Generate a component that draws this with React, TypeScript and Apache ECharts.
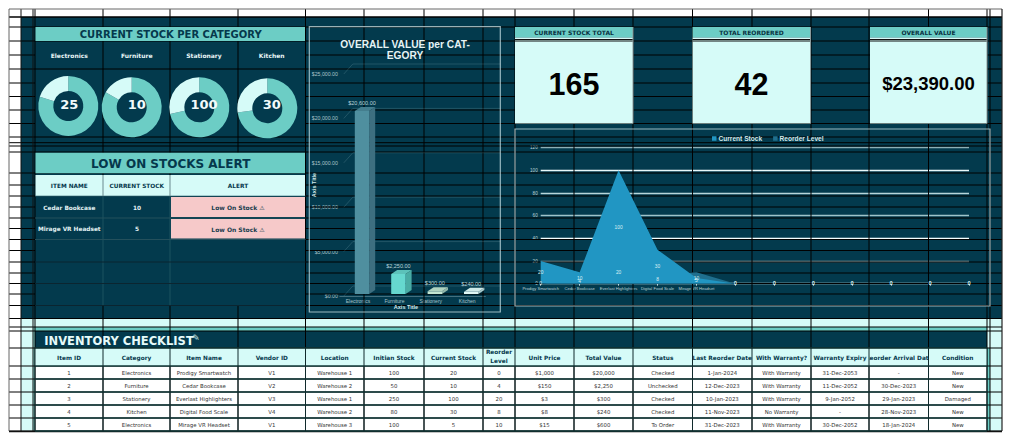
import React, { useEffect, useRef } from "react";
import * as echarts from "echarts";

// ---------- data ----------
const donutCategories = ["Electronics", "Furniture", "Stationary", "Kitchen"];
const donutCurrent = [25, 10, 100, 30];
const donutInitial = [100, 50, 250, 80];

const kpiTitles = ["CURRENT STOCK TOTAL", "TOTAL REORDERED", "OVERALL VALUE"];
const kpiValues = ["165", "42", "$23,390.00"];

const alertHeaders = ["ITEM NAME", "CURRENT STOCK", "ALERT"];
const alertItems = ["Cedar Bookcase", "Mirage VR Headset"];
const alertStocks = ["10", "5"];
const alertText = "Low On Stock \u26A0";

const valueCategories = ["Electronics", "Furniture", "Stationery", "Kitchen"];
const overallValues = [20600, 2250, 300, 240];
const valueTicks = [0, 5000, 10000, 15000, 20000, 25000];

const areaCategories = ["Prodigy Smartwatch", "Cedar Bookcase", "Everlast Highlighters", "Digital Food Scale", "Mirage VR Headset", "", "", "", "", "", "", ""];
const currentStock = [20, 10, 100, 30, 5, 0, 0, 0, 0, 0, 0, 0];
const reorderLevel = [0, 4, 20, 8, 10, 0, 0, 0, 0, 0, 0, 0];

const tableHeaders = ["Item ID", "Category", "Item Name", "Vendor ID", "Location", "Initian Stock", "Current Stock", "Reorder\nLevel", "Unit Price", "Total Value", "Status", "Last Reorder Date", "With Warranty?", "Warranty Expiry", "Reorder Arrival Date", "Condition"];
const tableRows = [
  ["1", "Electronics", "Prodigy Smartwatch", "V1", "Warehouse 1", "100", "20", "0", "$1,000", "$20,000", "Checked", "1-Jan-2024", "With Warranty", "31-Dec-2053", "-", "New"],
  ["2", "Furniture", "Cedar Bookcase", "V2", "Warehouse 2", "50", "10", "4", "$150", "$2,250", "Unchecked", "12-Dec-2023", "With Warranty", "11-Dec-2052", "30-Dec-2023", "New"],
  ["3", "Stationery", "Everlast Highlighters", "V3", "Warehouse 1", "250", "100", "20", "$3", "$300", "Checked", "10-Jan-2023", "With Warranty", "9-Jan-2052", "29-Jan-2023", "Damaged"],
  ["4", "Kitchen", "Digital Food Scale", "V4", "Warehouse 2", "80", "30", "8", "$8", "$240", "Checked", "11-Nov-2023", "No Warranty", "-", "28-Nov-2023", "New"],
  ["5", "Electronics", "Mirage VR Headset", "V1", "Warehouse 3", "100", "5", "10", "$15", "$600", "To Order", "31-Dec-2023", "With Warranty", "30-Dec-2052", "18-Jan-2024", "New"],
];

// ---------- layout & palette ----------
const DARK = "#033a4d";
const LIGHT = "#d6fbf8";
const TEAL = "#6ccdc5";
const PINK = "#f6c9c9";
const NAVY = "#05384c";
const DEJA = "'DejaVu Sans'";
const LIB = "'Liberation Sans'";

const cols = [35, 103, 170, 238, 305.5, 364, 424, 483, 515, 574, 633, 692.5, 752, 811, 869, 928.5, 987];
const allRows = [17, 27, 41, 55, 69, 83, 96.5, 110, 123.5, 137, 142.7, 146, 152, 173, 185, 196, 207, 218, 228.5, 239.5, 250.5, 262, 273, 283.5, 294, 305.5, 318.5, 327, 331];
const leftPanelRows = [17, 27, 41, 69, 137, 142.7, 146, 152, 173, 318.5, 327, 331];
const tableLines = [348, 366, 379, 392, 405, 418, 431];
const donutCenters = [[68.3, 106], [131.7, 107.3], [199.3, 107.3], [267.3, 108.3]];
const donutLabelX = [69.3, 136.7, 204, 271.7];
const kpiBoxes = [[515, 633], [692.5, 810.5], [870, 987]];
const barFronts = ["#4f8f9f", "#66d8cf", "#c4e6d2", "#e0f7f5"];
const barSides = ["#3d6f80", "#49aca4", "#8fb5a8", "#a9c9cb"];
const barTops = ["#447e8e", "#5cc2ba", "#b0d3c0", "#cfe9e8"];

function App() {
  const ref = useRef<HTMLDivElement>(null);
  useEffect(() => {
    document.body.style.margin = "0";
    const chart = echarts.init(ref.current!, undefined, { renderer: "svg" });
    const g: any[] = [];
    const rect = (x1: number, y1: number, x2: number, y2: number, fill: string, z = 1, extra: any = {}) =>
      g.push({ type: "rect", silent: true, z, shape: { x: x1, y: y1, width: x2 - x1, height: y2 - y1 }, style: { fill, ...extra } });
    const line = (x1: number, y1: number, x2: number, y2: number, stroke = "#000", lineWidth = 1, z = 1.5) =>
      g.push({ type: "line", silent: true, z, shape: { x1, y1, x2, y2 }, style: { stroke, lineWidth } });
    const text = (t: string, x: number, y: number, font: string, fill: string, z = 6, rotation = 0, extra: any = {}) =>
      g.push({ type: "text", silent: true, z, x, y, rotation, style: { text: t, font, fill, textAlign: "center", textVerticalAlign: "middle", verticalAlign: "middle", align: "center", ...extra } });

    // sheet backgrounds
    rect(21, 17, 1002, 318.5, DARK, 0);
    rect(21, 318.5, 1002, 327, LIGHT, 0);
    rect(21, 327, 1002, 431, LIGHT, 0);
    rect(35, 327, 987, 331, TEAL, 0.1);
    rect(33, 327, 35, 431, "#8fdcd4", 0.1);
    rect(987, 348, 990, 431, TEAL, 0.1);
    rect(35, 331, 987, 348, DARK, 0.1);
    rect(35, 348, 987, 431, "#ffffff", 0.1);

    // sheet lines
    for (const y of allRows) {
      line(9, y, 35, y, "#000", y === 17 ? 1.5 : 1);
      line(305.5, y, 1002, y, "#000", y === 17 ? 1.5 : 1);
    }
    for (const y of leftPanelRows) line(35, y, 305.5, y, "#000", y === 17 ? 1.5 : 1);
    for (const y of tableLines) line(9, y, 1002, y, "#000", 1);
    for (const x of [21, 33]) line(x, 9, x, 431, "#111", 1);
    for (const x of cols) {
      if (x === 238) {
        line(x, 9, x, 173);
        line(x, 305.5, x, 431);
      } else if (x === 103 || x === 170) {
        line(x, 9, x, 196);
        line(x, 196, x, 305.5, "#1d5361");
        line(x, 305.5, x, 431);
      } else line(x, 9, x, 431);
    }
    line(990, 9, 990, 431);
    line(9, 9, 1002, 9, "#666", 1);
    line(9, 9, 9, 431, "#666", 1);
    line(1002, 9, 1002, 431, "#222", 1.2);
    line(9, 431.5, 1002, 431.5, "#111", 1.5);

    // left panel: stock per category
    rect(35.5, 27, 305, 41, TEAL, 2);
    text("CURRENT STOCK PER CATEGORY", 170.7, 34.5, `bold 10px ${DEJA}`, NAVY);
    donutCategories.forEach((c, i) => {
      text(c, donutLabelX[i], 55.7, `bold 6px ${DEJA}`, "#e8f6f7");
      text(String(donutCurrent[i]), donutLabelX[i], 104, `bold 13px ${DEJA}`, "#f2fbfb");
    });

    // low on stock panel
    rect(35.5, 152.7, 305, 173.3, TEAL, 2);
    text("LOW ON STOCKS ALERT", 170.7, 164, `bold 12px ${DEJA}`, NAVY);
    rect(35.5, 175, 305, 195.7, LIGHT, 2);
    line(103, 175, 103, 196, "#6b8a8f", 1, 3);
    line(170, 175, 170, 196, "#6b8a8f", 1, 3);
    alertHeaders.forEach((h, i) => text(h, [69.3, 136.7, 238][i], 185.7, `bold 5.8px ${DEJA}`, NAVY));
    alertItems.forEach((it, i) => {
      const y = [207.7, 229][i];
      rect(171, [197, 219][i], 305, [217, 238.5][i], PINK, 2);
      text(it, 69.3, y, `bold 5.8px ${DEJA}`, "#e4f3f4");
      text(alertStocks[i], 137, y, `bold 5.8px ${DEJA}`, "#e4f3f4");
      text(alertText, 238, y, `bold 6px ${DEJA}`, "#20404f");
    });
    for (const y of [196, 218, 239.5, 262, 283.5, 305.5]) line(35, y, 305.5, y, y < 240 ? "#24505c" : "#0b2530", 1, 1.6);

    // KPI cards
    kpiBoxes.forEach(([a, b], i) => {
      rect(a, 27, b, 37.5, TEAL, 2);
      rect(a, 37.5, b, 123.5, LIGHT, 2);
      line(a, 39.5, b, 39.5, "#111", 1, 3);
      line(a, 41, b, 41, "#111", 1, 3);
      line(b, 27, b, 123.5, "#8a9a9c", 1, 3);
      text(kpiTitles[i], (a + b) / 2, 32.7, `bold 6px ${DEJA}`, "#08303f");
      text(kpiValues[i], (a + b) / 2, i === 2 ? 83 : 84, i === 2 ? `bold 18.5px ${LIB}` : `bold 30.5px ${LIB}`, "#000");
    });

    // chart frames
    rect(309.3, 26.7, 500.3, 312, "transparent", 3, { stroke: "rgba(205,228,232,0.75)", lineWidth: 1.2 });
    rect(515, 129, 990, 306, "transparent", 3, { stroke: "rgba(205,228,232,0.75)", lineWidth: 1.2 });
    text("Axis Title", 314, 185, `bold 5.5px ${LIB}`, "#d5e8ea", 6, Math.PI / 2);
    text("Axis Title", 406, 307, `bold 5.5px ${LIB}`, "#d5e8ea");

    // inventory table
    text("INVENTORY CHECKLIST", 119, 341, `bold 11.5px ${DEJA}`, "#e6fbfa");
    text("\u270E", 196, 338, `9px ${DEJA}`, "#cfeeee");
    const clipped = [11, 14];
    const colMid = (i: number) => (cols[i] + cols[i + 1]) / 2;
    tableHeaders.forEach((h, i) => {
      const isClip = clipped.includes(i);
      rect(cols[i], 348.5, cols[i + 1], 366, LIGHT, isClip ? 2 : 4);
      const two = h.includes("\n");
      text(h, colMid(i), two ? 356.5 : 357.5, `bold 5.8px ${DEJA}`, NAVY, isClip ? 3 : 5, 0, two ? { lineHeight: 9 } : {});
    });
    tableRows.forEach((row, r) => {
      row.forEach((v, c) => text(v, colMid(c), 372.7 + r * 13, `5.4px ${DEJA}`, "#333"));
    });
    for (const y of tableLines) line(35, y, 987, y, "#123a3a", 1.3, 5.5);
    for (const x of cols) line(x, 348, x, 431, "#102a2c", 1, 5.5);

    const pies = donutCategories.map((c, i) => ({
      type: "pie",
      name: c,
      silent: true,
      radius: [15, 30],
      center: donutCenters[i],
      startAngle: 90,
      clockwise: true,
      label: { show: false },
      labelLine: { show: false },
      data: [
        { name: "Initial Stock", value: donutInitial[i], itemStyle: { color: TEAL } },
        { name: "Current Stock", value: donutCurrent[i], itemStyle: { color: LIGHT } },
      ],
    }));

    const halfLabels = (name: string, values: number[], zv: number) => ({
      type: "line",
      name,
      xAxisIndex: 1,
      yAxisIndex: 1,
      silent: true,
      z: zv,
      symbol: "circle",
      symbolSize: 1,
      showSymbol: true,
      showAllSymbol: true,
      itemStyle: { color: "transparent", borderWidth: 0 },
      lineStyle: { color: "transparent", width: 0 },
      labelLayout: { hideOverlap: false },
      label: {
        show: true,
        position: "inside",
        fontSize: 4.8,
        fontFamily: LIB,
        color: "#dcf0f3",
        formatter: (p: any) => String(values[p.dataIndex]),
      },
      data: values.map((v) => v / 2),
    });

    chart.setOption({
      animation: false,
      title: {
        text: "OVERALL VALUE per CAT-\nEGORY",
        left: 400,
        top: 34,
        textAlign: "center",
        textStyle: { color: "#e6f3f4", fontSize: 10.2, fontWeight: "bold", fontFamily: LIB, lineHeight: 11 },
      },
      legend: {
        data: ["Current Stock", "Reorder Level"],
        left: 712,
        top: 135,
        padding: 0,
        itemWidth: 4.5,
        itemHeight: 4.5,
        itemGap: 11,
        icon: "rect",
        textStyle: { color: "#d2e8ea", fontSize: 6.6, fontWeight: "bold", fontFamily: LIB, padding: [0, 0, 0, -3] },
      },
      graphic: { elements: g },
      grid: [
        { left: 339.8, width: 145.6, top: 74, height: 222 },
        { left: 540.7, right: 43, top: 147.7, bottom: 156.3 },
      ],
      xAxis: [
        {
          type: "category",
          gridIndex: 0,
          data: valueCategories,
          axisLine: { lineStyle: { color: "rgba(190,215,220,0.5)", width: 0.7 } },
          axisTick: { show: false },
          axisLabel: { fontSize: 5, fontFamily: LIB, color: "#a9c4cb", margin: 2.5, interval: 0 },
        },
        {
          type: "category",
          gridIndex: 1,
          boundaryGap: false,
          data: areaCategories,
          axisLine: { onZero: true, lineStyle: { color: "#c5dfe2", width: 1 } },
          axisTick: { show: true, length: 2, lineStyle: { color: "#e6f6f7", width: 0.8 } },
          axisLabel: { fontSize: 4.1, fontFamily: LIB, color: "#bcd3d8", margin: 3, interval: 0 },
        },
      ],
      yAxis: [
        {
          type: "value",
          gridIndex: 0,
          min: 0,
          max: 25000,
          interval: 5000,
          splitLine: { show: false },
          axisLine: { show: false },
          axisTick: { show: false },
          axisLabel: {
            fontSize: 5.2,
            fontFamily: LIB,
            color: "#a9c4cb",
            margin: 2,
            formatter: (v: number) => "$" + v.toLocaleString("en-US", { minimumFractionDigits: 2 }),
          },
        },
        {
          type: "value",
          gridIndex: 1,
          min: 0,
          max: 120,
          interval: 20,
          axisLine: { show: false },
          axisTick: { show: false },
          axisLabel: { fontSize: 4.6, fontFamily: LIB, color: "#bcd3d8", margin: 3 },
          splitLine: {
            show: true,
            lineStyle: { width: 1.3, color: ["#c5dfe2", "#8fa9ad", "#f5ffff", "#9fc3c9", "#b7d6da", "#e9f8f9", "#8db0b7"] },
          },
        },
      ],
      series: [
        ...pies,
        {
          type: "custom",
          name: "wall",
          silent: true,
          xAxisIndex: 0,
          yAxisIndex: 0,
          z: 2,
          data: valueTicks.map((v) => [0, v]),
          renderItem: (params: any, api: any) => {
            const y = api.coord([0, api.value(1)])[1];
            const cs = params.coordSys;
            const stroke = "rgba(180,212,218,0.25)";
            return {
              type: "group",
              children: [
                { type: "line", shape: { x1: cs.x + 4, y1: y, x2: cs.x + 13, y2: y - 10 }, style: { stroke, lineWidth: 0.7 } },
                { type: "line", shape: { x1: cs.x + 13, y1: y - 10, x2: cs.x + cs.width + 15, y2: y - 10 }, style: { stroke, lineWidth: 0.7 } },
              ],
            };
          },
        },
        {
          type: "custom",
          name: "Overall Value",
          silent: true,
          xAxisIndex: 0,
          yAxisIndex: 0,
          z: 3,
          data: overallValues.map((v, i) => [i, v]),
          renderItem: (params: any, api: any) => {
            const i = params.dataIndex;
            const val = api.value(1);
            const top = api.coord([i, val]);
            const base = api.coord([i, 0]);
            const w = 14.4, dx = 6, dy = 4, shiftY = -2;
            const l = top[0] + 4 - w / 2, r = l + w;
            const yt = top[1] + shiftY, yb = base[1] + shiftY;
            return {
              type: "group",
              children: [
                { type: "polygon", shape: { points: [[r, yt], [r + dx, yt - dy], [r + dx, yb - dy], [r, yb]] }, style: { fill: barSides[i] } },
                { type: "polygon", shape: { points: [[l, yt], [l + dx, yt - dy], [r + dx, yt - dy], [r, yt]] }, style: { fill: barTops[i] } },
                { type: "rect", shape: { x: l, y: yt, width: w, height: yb - yt }, style: { fill: barFronts[i] } },
                {
                  type: "text",
                  x: l + w / 2,
                  y: yt - dy - 4,
                  style: {
                    text: "$" + val.toLocaleString("en-US", { minimumFractionDigits: 2 }),
                    font: `5.5px ${LIB}`,
                    fill: "#b9d2d8",
                    textAlign: "center",
                    textVerticalAlign: "middle",
                    verticalAlign: "middle",
                    align: "center",
                  },
                },
              ],
            };
          },
        },
        {
          type: "line",
          name: "Reorder Level",
          silent: true,
          xAxisIndex: 1,
          yAxisIndex: 1,
          z: 3,
          symbol: "none",
          lineStyle: { width: 0 },
          itemStyle: { color: "#1f6f8e" },
          areaStyle: { color: "#1f6f8e", opacity: 1 },
          data: reorderLevel,
        },
        {
          type: "line",
          name: "Current Stock",
          silent: true,
          xAxisIndex: 1,
          yAxisIndex: 1,
          z: 4,
          symbol: "none",
          lineStyle: { width: 0 },
          itemStyle: { color: "#2196c3" },
          areaStyle: { color: "#2196c3", opacity: 1 },
          data: currentStock,
        },
        halfLabels("Reorder Labels", reorderLevel, 5),
        halfLabels("Stock Labels", currentStock, 5),
      ],
    });
    return () => chart.dispose();
  }, []);
  return <div ref={ref} style={{ position: "absolute", left: 0, top: 0, width: 1012, height: 440 }} />;
}

export default App;
